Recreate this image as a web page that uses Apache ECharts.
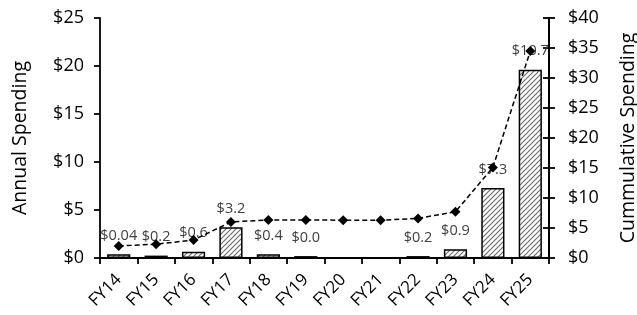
<!DOCTYPE html>
<html>
<head>
<meta charset="utf-8">
<script src="https://cdn.jsdelivr.net/npm/echarts@6/dist/echarts.min.js"></script>
<style>
  html, body { margin: 0; padding: 0; background: #fff; }
  #chart { width: 637px; height: 315px; }
</style>
</head>
<body>
<div id="chart"></div>
<script>
// 数据
var years = ['FY14', 'FY15', 'FY16', 'FY17', 'FY18', 'FY19', 'FY20', 'FY21', 'FY22', 'FY23', 'FY24', 'FY25'];
var annual = [0.4, 0.25, 0.65, 3.2, 0.4, 0.2, 0, 0, 0.2, 0.9, 7.3, 19.6];
var cumulative = [2.0, 2.3, 3.0, 6.0, 6.35, 6.35, 6.3, 6.3, 6.6, 7.7, 15.1, 34.5];
var barLabels = ['$0.04', '$0.2', '$0.6', '$3.2', '$0.4', '$0.0', '', '', '$0.2', '$0.9', '$7.3', '$10.7'];
var leftTicks = { min: 0, max: 25, interval: 5 };
var rightTicks = { min: 0, max: 40, interval: 5 };

var font = 'Open Sans';

// 斜线填充
function hatch() {
  var c = document.createElement('canvas');
  c.width = 5;
  c.height = 5;
  var ctx = c.getContext('2d');
  ctx.fillStyle = '#fff';
  ctx.fillRect(0, 0, 5, 5);
  ctx.strokeStyle = '#6e6e6e';
  ctx.lineWidth = 1.2;
  ctx.beginPath();
  ctx.moveTo(-1, 6); ctx.lineTo(6, -1);
  ctx.moveTo(-1, 1); ctx.lineTo(1, -1);
  ctx.moveTo(4, 6); ctx.lineTo(6, 4);
  ctx.stroke();
  return c;
}

var chart = echarts.init(document.getElementById('chart'), null, { renderer: 'canvas' });

var axisCommon = {
  type: 'value',
  splitLine: { show: false },
  axisLine: { show: true, lineStyle: { color: '#000', width: 1.8 } },
  axisTick: { show: true, length: 6, lineStyle: { color: '#000', width: 1.8 } },
  axisLabel: { formatter: '${value}', color: '#000', fontFamily: font, fontSize: 18 },
  nameLocation: 'middle',
  nameTextStyle: { color: '#000', fontFamily: font, fontSize: 19.5 }
};

var option = {
  animation: false,
  grid: { left: 100, right: 88, top: 18, bottom: 57, containLabel: false, outerBoundsMode: 'none' },
  xAxis: {
    type: 'category',
    data: years,
    boundaryGap: true,
    axisLine: { lineStyle: { color: '#000', width: 1.8 } },
    axisTick: { show: true, length: 6, lineStyle: { color: '#000', width: 1.8 } },
    axisLabel: { rotate: 45, interval: 0, color: '#000', fontFamily: font, fontSize: 17, margin: 19 }
  },
  yAxis: [
    Object.assign({}, axisCommon, leftTicks, {
      position: 'left',
      name: 'Annual Spending',
      nameGap: 70,
      axisLabel: Object.assign({}, axisCommon.axisLabel, { margin: 16 })
    }),
    Object.assign({}, axisCommon, rightTicks, {
      position: 'right',
      name: 'Cummulative Spending',
      nameGap: 69,
      nameRotate: 90,
      axisLabel: Object.assign({}, axisCommon.axisLabel, { margin: 19 })
    }),
    // 右轴内侧刻度
    Object.assign({}, axisCommon, rightTicks, {
      position: 'right',
      axisTick: { show: true, inside: true, length: 6, lineStyle: { color: '#000', width: 1.8 } },
      axisLabel: { show: false }
    })
  ],
  series: [
    {
      name: 'Annual',
      type: 'bar',
      yAxisIndex: 0,
      barWidth: '62%',
      data: annual,
      itemStyle: {
        color: { image: hatch(), repeat: 'repeat' },
        borderColor: '#000',
        borderWidth: 1.5
      },
      label: {
        show: true,
        position: 'top',
        distance: 11,
        color: '#404040',
        fontFamily: font,
        fontSize: 14.5,
        formatter: function (p) { return barLabels[p.dataIndex]; }
      }
    },
    {
      name: 'Cumulative',
      type: 'line',
      yAxisIndex: 1,
      data: cumulative,
      symbol: 'diamond',
      symbolSize: 10,
      itemStyle: { color: '#000' },
      lineStyle: { color: '#000', width: 1.5, type: [5, 3] },
      z: 3
    }
  ]
};

chart.setOption(option);
</script>
</body>
</html>
